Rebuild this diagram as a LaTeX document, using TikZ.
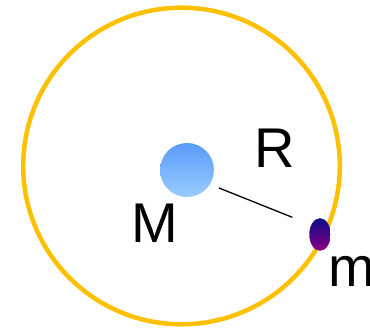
\documentclass[tikz,border=0pt]{standalone}
\usepackage{fontspec}
\usetikzlibrary{shapes.geometric}
\setmainfont{Liberation Sans}
\definecolor{orbitc}{HTML}{FFC000}
\definecolor{bigtop}{HTML}{5A9BFA}
\definecolor{bigbot}{HTML}{99CCFF}
\definecolor{smalltop}{HTML}{0C0C88}
\definecolor{smallbot}{HTML}{8A0083}
\begin{document}
\begin{tikzpicture}[x=1pt,y=-1pt,
  lbl/.style={inner sep=0pt,anchor=base west,font=\fontsize{56}{60}\selectfont},
  bigmass/.style={circle,inner sep=0pt,minimum size=54pt,top color=bigtop,bottom color=bigbot,draw=none},
  smallmass/.style={ellipse,inner sep=0pt,minimum width=21.5pt,minimum height=32.5pt,top color=smalltop,bottom color=smallbot,draw=none},
  orbit/.style={draw=orbitc,line width=4.5pt}]
\useasboundingbox (0,0) rectangle (370,328);
\begin{scope}
\clip (0,0) rectangle (370,328);
\node[orbit,circle,inner sep=0pt,minimum size=316.6pt] (orb) at (181.5,166) {};
\node[bigmass] (M) at (187,170) {};
\coordinate (r1) at (219,188);
\coordinate (r2) at (292.3,217.3);
\draw[line width=1.3pt] (r1) -- (r2);
\node[smallmass] (m) at (320,234.5) {};
\node[lbl] (Rl) at (254.5,168) {R};
\node[lbl] (Ml) at (131,243) {M};
\node[lbl] (ml) at (328.5,286.7) {m};
\end{scope}
\end{tikzpicture}
\end{document}
